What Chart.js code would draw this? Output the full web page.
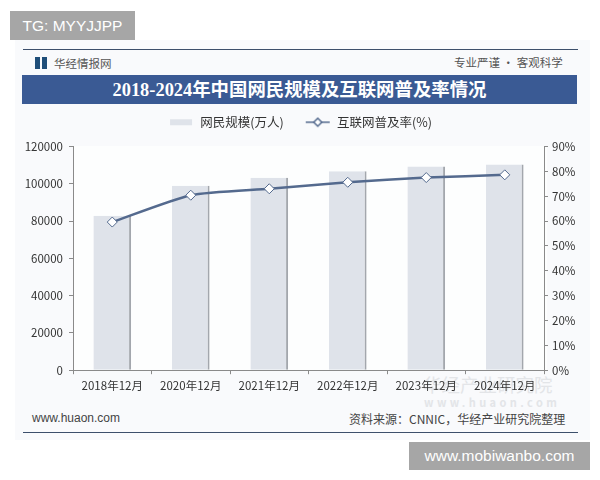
<!DOCTYPE html>
<html>
<head>
<meta charset="utf-8">
<script src="https://cdn.jsdelivr.net/npm/chart.js@4"></script>
<style>
  html, body { margin: 0; padding: 0; background: #fff; }
  body { width: 600px; height: 480px; position: relative; overflow: hidden;
         font-family: "Noto Sans CJK SC", "Liberation Sans", sans-serif; }
  .abs { position: absolute; white-space: nowrap; }
  #card { left: 15px; top: 40px; width: 575px; height: 400px; background: #f9fafc; }
  #plotBg { left: 73px; top: 146px; width: 474px; height: 224px; background: #fff; opacity: .7; }
  .rule { left: 23px; width: 555px; height: 1px; background: #3c4f6b; }
  #banner { left: 22px; top: 75px; width: 555px; height: 29px; background: #3a5a94; color: #fff;
            font: bold 18.4px "Liberation Serif", "Noto Sans CJK SC", serif; line-height: 30px; text-align: center; }
  .grey { background: #a6a6a6; color: #fff; font: 15.5px "Liberation Sans", sans-serif; text-align: center; }
  .logo { top: 57px; width: 5px; height: 12px; background: #1f4e79; }
  canvas { position: absolute; left: 15px; top: 95px; }
</style>
</head>
<body>
<div class="abs" id="card"></div>
<div class="abs" id="plotBg"></div>
<div class="abs rule" style="top:49px"></div>
<div class="abs logo" style="left:35px"></div>
<div class="abs logo" style="left:42px"></div>
<div class="abs" style="left:54px;top:55px;font-size:11.5px;color:#555">华经情报网</div>
<div class="abs" style="left:454px;top:54px;font-size:11.5px;color:#555">专业严谨 • 客观科学</div>
<div class="abs" id="banner">2018-2024年中国网民规模及互联网普及率情况</div>
<div class="abs" style="left:423px;top:371px;font-size:18.5px;color:#e3e5e8">华经产业研究院</div>
<div class="abs" style="left:424px;top:394px;font-size:11px;letter-spacing:3.4px;color:#e3e5e8;font-weight:bold">www.huaon.com</div>
<div class="abs" style="left:32px;top:411px;font:12px 'Liberation Sans',sans-serif;color:#444">www.huaon.com</div>
<div class="abs" style="left:349px;top:410px;font-size:12px;color:#444">资料来源：CNNIC，华经产业研究院整理</div>
<div class="abs rule" style="top:432px"></div>
<div class="abs grey" style="left:10px;top:11px;width:125px;height:29px;line-height:29px">TG: MYYJJPP</div>
<div class="abs grey" style="left:409px;top:442px;width:181px;height:28px;line-height:28px">www.mobiwanbo.com</div>

<canvas id="myChart" width="575" height="303"></canvas>

<script>
const categories = ['2018年12月', '2020年12月', '2021年12月', '2022年12月', '2023年12月', '2024年12月'];
const netizens = [82851, 98899, 103195, 106744, 109217, 110400];
const penetration = [59.6, 70.4, 73.0, 75.6, 77.5, 78.6];
const leftTicks = [0, 20000, 40000, 60000, 80000, 100000, 120000];
const rightTicks = [0, 10, 20, 30, 40, 50, 60, 70, 80, 90];
const seriesNames = ['网民规模(万人)', '互联网普及率(%)'];

const barColor = '#dfe3ea';
const lineColor = '#546a8e';
const axisColor = '#8a8a8a';
const textColor = '#333';
const tickFont = { family: '"Noto Sans CJK SC", "Liberation Sans", sans-serif', size: 11.5 };

// legend swatches are small canvases so the library can place them
const makeSwatch = (draw) => {
  const c = document.createElement('canvas');
  c.width = 26;
  c.height = 12;
  draw(c.getContext('2d'));
  return c;
}

const barSwatch = makeSwatch((g) => {
  g.fillStyle = barColor;
  g.fillRect(2, 3, 22, 6);
});

const lineSwatch = makeSwatch((g) => {
  g.strokeStyle = lineColor;
  g.lineWidth = 1.5;
  g.beginPath();
  g.moveTo(1, 6);
  g.lineTo(25, 6);
  g.stroke();
  g.fillStyle = '#fff';
  g.beginPath();
  g.moveTo(13, 2);
  g.lineTo(17, 6);
  g.lineTo(13, 10);
  g.lineTo(9, 6);
  g.closePath();
  g.fill();
  g.stroke();
});

// leaves a bit more room under the legend
const legendGap = {
  id: 'legendGap',
  beforeInit: (chart) => {
    const fit = chart.legend.fit;
    chart.legend.fit = function () {
      fit.call(this);
      this.height += 8;
    };
  }
};

const generateChart = () => {
  const ctx = document.getElementById('myChart');
  return new Chart(ctx, {
    plugins: [legendGap],
    data: {
      labels: categories,
      datasets: [
        {
          type: 'line',
          label: seriesNames[1],
          data: penetration,
          yAxisID: 'yRate',
          borderColor: lineColor,
          borderWidth: 2.5,
          tension: 0.2,
          pointStyle: 'rectRot',
          pointRadius: 5,
          pointBackgroundColor: '#fff',
          pointBorderColor: lineColor,
          pointBorderWidth: 1,
          order: 1
        },
        {
          type: 'bar',
          label: seriesNames[0],
          data: netizens,
          yAxisID: 'yCount',
          backgroundColor: barColor,
          borderColor: '#a3a7ad',
          borderWidth: { top: 0, left: 0, bottom: 0, right: 2 },
          borderSkipped: false,
          barPercentage: 0.48,
          categoryPercentage: 1,
          order: 2
        }
      ]
    },
    options: {
      responsive: false,
      animation: false,
      layout: { padding: { left: 0, right: 5, top: 0, bottom: 0 } },
      plugins: {
        tooltip: { enabled: false },
        legend: {
          position: 'top',
          labels: {
            color: textColor,
            font: { family: tickFont.family, size: 12.5 },
            usePointStyle: true,
            pointStyleWidth: 26,
            boxHeight: 12,
            padding: 21,
            generateLabels: () => [
              { text: seriesNames[0], pointStyle: barSwatch, fontColor: textColor, datasetIndex: 1 },
              { text: seriesNames[1], pointStyle: lineSwatch, fontColor: textColor, datasetIndex: 0 }
            ]
          }
        }
      },
      scales: {
        x: {
          offset: true,
          border: { color: axisColor },
          grid: { offset: true, drawOnChartArea: false, drawTicks: true, tickLength: 4, color: axisColor },
          ticks: { color: textColor, font: tickFont, maxRotation: 0, autoSkip: false, padding: 5 }
        },
        yCount: {
          position: 'left',
          min: 0,
          max: 120000,
          afterBuildTicks: (axis) => { axis.ticks = leftTicks.map((value) => ({ value })); },
          afterFit: (axis) => { axis.width = 58; },
          border: { color: axisColor },
          grid: { drawOnChartArea: false, tickLength: 4, color: axisColor },
          ticks: { color: textColor, font: tickFont, padding: 6, callback: (v) => String(v) }
        },
        yRate: {
          position: 'right',
          min: 0,
          max: 90,
          afterBuildTicks: (axis) => { axis.ticks = rightTicks.map((value) => ({ value })); },
          afterFit: (axis) => { axis.width = 41; },
          border: { color: axisColor },
          grid: { drawOnChartArea: false, tickLength: 4, color: axisColor },
          ticks: { color: textColor, font: tickFont, padding: 4, callback: (v) => v + '%' }
        }
      }
    }
  });
}

generateChart();
</script>
</body>
</html>
